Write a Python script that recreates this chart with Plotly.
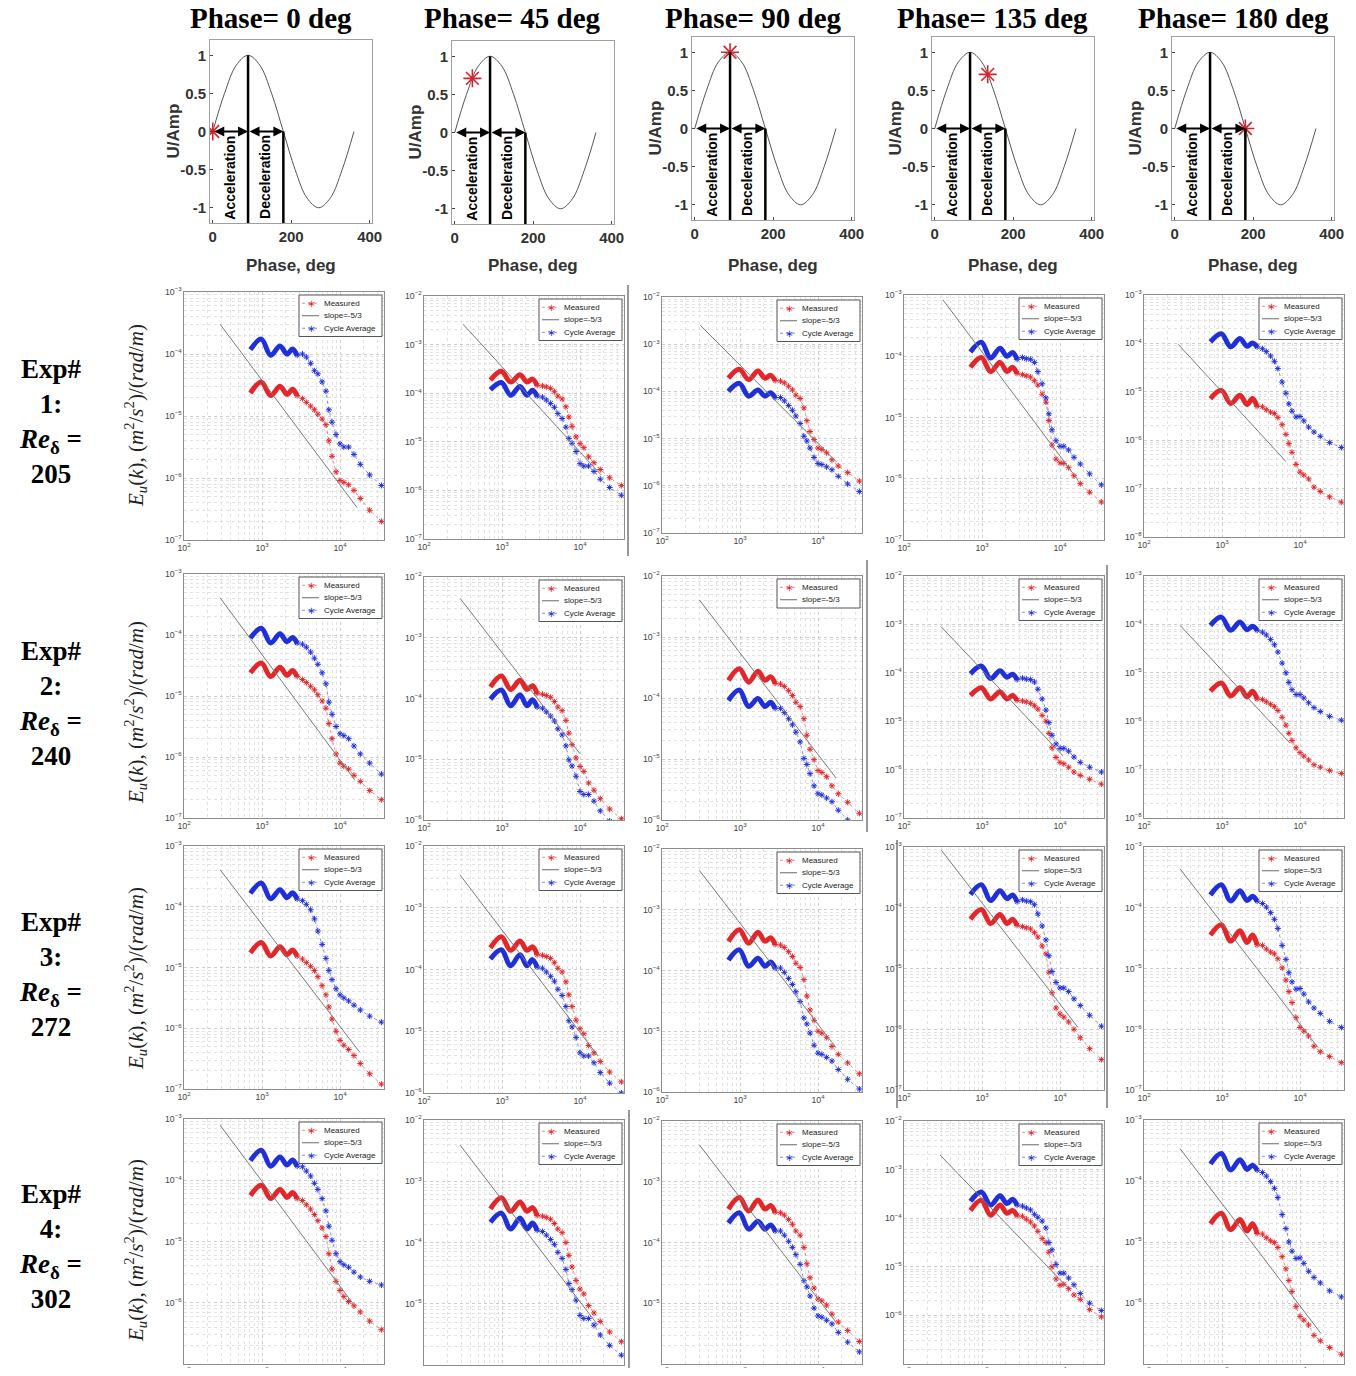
import numpy as np
import plotly.graph_objects as go

W, H = 1356, 1376
PAGE_MARGIN = 8          # the browser puts the figure 8 px in from the page corner
FW, FH = W - 2 * PAGE_MARGIN, H - 2 * PAGE_MARGIN

# ---- top row: phase of the oscillation --------------------------------------
PHASES = [0, 45, 90, 135, 180]
PHASE_U = [0.0, 0.71, 1.0, 0.71, 0.0]
SINE_PHASE = [0, 30, 60, 90, 120, 150, 180, 210, 240, 270, 300, 330, 360]
SINE_U = [0.0, 0.5, 0.87, 1.0, 0.87, 0.5, 0.0, -0.5, -0.87, -1.0, -0.87, -0.5, 0.0]
ACCEL_END = 90
DECEL_END = 180

EXPERIMENTS = [1, 2, 3, 4]
RE_DELTA = [205, 240, 272, 302]

# ---- spectra: wavenumber (rad/m) ------------------------------------------
K_DENSE = [710, 980, 1290, 1700, 2090, 2460, 2820]
K_TAIL = [3300, 3700, 4200, 4700, 5200, 5900, 6600, 7200, 7900, 8900,
          10000, 11200, 12900, 15100, 18200, 24000, 33900]

# log10 of E_u(k); first 7 values are the dense band, the rest the sparse tail
E1_P0_MEAS = [-4.63, -4.45, -4.67, -4.52, -4.65, -4.57, -4.67,
              -4.72, -4.78, -4.84, -4.90, -4.97, -5.05, -5.14, -5.40, -5.65, -5.90, -6.04, -6.07, -6.11, -6.20, -6.33, -6.52, -6.70]
E1_P0_AVG = [-3.93, -3.76, -4.02, -3.87, -4.00, -3.92, -4.02,
             -4.00, -4.05, -4.15, -4.27, -4.32, -4.45, -4.60, -4.90, -5.10, -5.30, -5.45, -5.50, -5.50, -5.62, -5.78, -5.95, -6.12]
E1_P45_MEAS = [-3.73, -3.55, -3.77, -3.62, -3.77, -3.71, -3.84,
               -3.85, -3.87, -3.90, -3.97, -4.06, -4.12, -4.28, -4.49, -4.68, -4.90, -5.04, -5.12, -5.31, -5.43, -5.57, -5.74, -5.90]
E1_P45_AVG = [-3.93, -3.78, -4.04, -3.86, -4.04, -3.94, -4.06,
              -4.08, -4.14, -4.21, -4.29, -4.42, -4.52, -4.70, -4.93, -5.03, -5.20, -5.45, -5.50, -5.50, -5.61, -5.77, -5.94, -6.10]
E1_P90_MEAS = [-3.72, -3.53, -3.75, -3.57, -3.72, -3.66, -3.77,
               -3.78, -3.82, -3.89, -3.97, -4.08, -4.15, -4.35, -4.62, -4.85, -5.02, -5.20, -5.23, -5.30, -5.45, -5.58, -5.72, -5.90]
E1_P90_AVG = [-4.00, -3.83, -4.10, -3.97, -4.10, -4.03, -4.13,
              -4.13, -4.20, -4.30, -4.40, -4.52, -4.68, -4.95, -5.05, -5.20, -5.40, -5.53, -5.55, -5.60, -5.66, -5.80, -5.96, -6.12]
E1_P135_MEAS = [-4.18, -4.02, -4.25, -4.10, -4.25, -4.18, -4.28,
                -4.30, -4.32, -4.34, -4.40, -4.47, -4.62, -4.75, -5.05, -5.45, -5.68, -5.74, -5.75, -5.82, -5.95, -6.08, -6.22, -6.38]
E1_P135_AVG = [-3.93, -3.77, -4.03, -3.87, -4.00, -3.94, -4.05,
               -4.02, -4.04, -4.05, -4.10, -4.25, -4.45, -4.68, -4.94, -5.20, -5.38, -5.47, -5.47, -5.53, -5.65, -5.76, -5.92, -6.10]
E1_P180_MEAS = [-5.14, -4.97, -5.24, -5.07, -5.26, -5.14, -5.30,
                -5.31, -5.37, -5.42, -5.45, -5.53, -5.68, -5.88, -6.07, -6.25, -6.50, -6.66, -6.72, -6.80, -6.97, -7.06, -7.17, -7.28]
E1_P180_AVG = [-3.97, -3.80, -4.07, -3.90, -4.06, -3.99, -4.07,
               -4.11, -4.17, -4.26, -4.37, -4.52, -4.80, -5.03, -5.25, -5.40, -5.52, -5.51, -5.60, -5.73, -5.83, -5.92, -6.05, -6.15]

E2_P0_MEAS = [-4.62, -4.46, -4.68, -4.53, -4.66, -4.58, -4.68,
              -4.73, -4.78, -4.84, -4.90, -4.98, -5.08, -5.20, -5.45, -5.70, -5.95, -6.10, -6.15, -6.20, -6.30, -6.40, -6.55, -6.70]
E2_P0_AVG = [-4.05, -3.89, -4.13, -3.98, -4.11, -4.04, -4.13,
             -4.15, -4.20, -4.28, -4.38, -4.48, -4.62, -4.80, -5.10, -5.30, -5.50, -5.62, -5.65, -5.70, -5.82, -5.95, -6.10, -6.28]
E2_P45_MEAS = [-3.81, -3.63, -3.85, -3.70, -3.85, -3.79, -3.92,
               -3.93, -3.95, -3.98, -4.05, -4.14, -4.20, -4.36, -4.57, -4.76, -4.98, -5.12, -5.20, -5.39, -5.51, -5.65, -5.82, -5.98]
E2_P45_AVG = [-4.01, -3.86, -4.12, -3.94, -4.12, -4.02, -4.14,
              -4.16, -4.22, -4.29, -4.37, -4.50, -4.60, -4.78, -5.01, -5.11, -5.28, -5.53, -5.58, -5.58, -5.69, -5.85, -6.02, -6.18]
E2_P90_MEAS = [-3.71, -3.52, -3.74, -3.56, -3.71, -3.65, -3.76,
               -3.77, -3.81, -3.88, -3.96, -4.07, -4.14, -4.34, -4.61, -4.84, -5.01, -5.19, -5.22, -5.29, -5.44, -5.57, -5.71, -5.89]
E2_P90_AVG = [-4.04, -3.87, -4.14, -4.01, -4.14, -4.07, -4.17,
              -4.17, -4.24, -4.34, -4.44, -4.56, -4.72, -4.99, -5.09, -5.24, -5.44, -5.57, -5.59, -5.64, -5.70, -5.84, -6.00, -6.16]
E2_P135_MEAS = [-4.47, -4.31, -4.54, -4.39, -4.54, -4.47, -4.57,
                -4.58, -4.60, -4.63, -4.68, -4.75, -4.88, -5.00, -5.25, -5.55, -5.75, -5.85, -5.88, -5.95, -6.05, -6.12, -6.20, -6.30]
E2_P135_AVG = [-4.02, -3.86, -4.12, -3.96, -4.09, -4.03, -4.14,
               -4.11, -4.13, -4.14, -4.19, -4.34, -4.54, -4.77, -5.03, -5.29, -5.47, -5.56, -5.56, -5.62, -5.74, -5.85, -5.95, -6.05]
E2_P180_MEAS = [-5.38, -5.21, -5.48, -5.31, -5.50, -5.38, -5.54,
                -5.55, -5.60, -5.65, -5.70, -5.78, -5.92, -6.08, -6.25, -6.40, -6.55, -6.65, -6.72, -6.80, -6.90, -6.95, -7.02, -7.08]
E2_P180_AVG = [-4.02, -3.85, -4.12, -3.95, -4.11, -4.04, -4.12,
               -4.16, -4.22, -4.31, -4.42, -4.57, -4.80, -5.00, -5.20, -5.35, -5.45, -5.45, -5.52, -5.62, -5.72, -5.80, -5.90, -5.98]

E3_P0_MEAS = [-4.76, -4.59, -4.81, -4.66, -4.79, -4.71, -4.81,
              -4.86, -4.92, -4.98, -5.05, -5.15, -5.30, -5.45, -5.65, -5.85, -6.05, -6.20, -6.28, -6.35, -6.45, -6.58, -6.75, -6.92]
E3_P0_AVG = [-3.78, -3.61, -3.87, -3.72, -3.85, -3.77, -3.87,
             -3.90, -3.96, -4.05, -4.20, -4.40, -4.62, -4.85, -5.05, -5.20, -5.35, -5.45, -5.50, -5.55, -5.62, -5.70, -5.80, -5.90]
E3_P45_MEAS = [-3.65, -3.47, -3.69, -3.54, -3.69, -3.63, -3.76,
               -3.77, -3.79, -3.82, -3.89, -3.98, -4.04, -4.20, -4.41, -4.60, -4.82, -4.96, -5.04, -5.23, -5.35, -5.49, -5.66, -5.82]
E3_P45_AVG = [-3.83, -3.68, -3.94, -3.76, -3.94, -3.84, -3.96,
              -3.98, -4.04, -4.11, -4.19, -4.32, -4.42, -4.60, -4.83, -4.93, -5.10, -5.35, -5.40, -5.40, -5.51, -5.67, -5.84, -6.00]
E3_P90_MEAS = [-3.52, -3.33, -3.55, -3.37, -3.52, -3.46, -3.57,
               -3.58, -3.62, -3.69, -3.77, -3.88, -3.95, -4.15, -4.42, -4.65, -4.82, -5.00, -5.03, -5.10, -5.25, -5.38, -5.52, -5.70]
E3_P90_AVG = [-3.83, -3.66, -3.93, -3.80, -3.93, -3.86, -3.96,
              -3.96, -4.03, -4.13, -4.23, -4.35, -4.51, -4.78, -4.88, -5.03, -5.23, -5.36, -5.38, -5.43, -5.49, -5.63, -5.79, -5.95]
E3_P135_MEAS = [-4.19, -4.03, -4.26, -4.11, -4.26, -4.19, -4.29,
                -4.31, -4.33, -4.35, -4.41, -4.48, -4.63, -4.76, -5.06, -5.40, -5.65, -5.75, -5.80, -5.88, -6.00, -6.14, -6.32, -6.50]
E3_P135_AVG = [-3.78, -3.62, -3.88, -3.72, -3.85, -3.79, -3.90,
               -3.87, -3.89, -3.90, -3.95, -4.10, -4.30, -4.53, -4.79, -5.05, -5.23, -5.32, -5.32, -5.38, -5.50, -5.61, -5.77, -5.95]
E3_P180_MEAS = [-4.45, -4.28, -4.55, -4.38, -4.57, -4.45, -4.61,
                -4.62, -4.68, -4.73, -4.76, -4.84, -4.99, -5.19, -5.38, -5.56, -5.81, -5.97, -6.03, -6.11, -6.28, -6.37, -6.45, -6.55]
E3_P180_AVG = [-3.79, -3.62, -3.89, -3.72, -3.88, -3.81, -3.89,
               -3.93, -3.99, -4.08, -4.19, -4.34, -4.62, -4.85, -5.07, -5.22, -5.34, -5.33, -5.42, -5.55, -5.65, -5.74, -5.87, -5.97]

E4_P0_MEAS = [-4.25, -4.08, -4.30, -4.15, -4.28, -4.20, -4.30,
              -4.33, -4.40, -4.47, -4.56, -4.66, -4.78, -4.92, -5.20, -5.45, -5.65, -5.80, -5.90, -5.98, -6.05, -6.15, -6.30, -6.44]
E4_P0_AVG = [-3.68, -3.51, -3.77, -3.62, -3.75, -3.67, -3.77,
             -3.78, -3.85, -3.93, -4.05, -4.15, -4.30, -4.50, -4.75, -4.98, -5.20, -5.33, -5.38, -5.42, -5.50, -5.58, -5.65, -5.71]
E4_P45_MEAS = [-3.45, -3.27, -3.49, -3.34, -3.49, -3.43, -3.56,
               -3.57, -3.59, -3.62, -3.69, -3.78, -3.84, -4.00, -4.21, -4.40, -4.62, -4.76, -4.84, -5.03, -5.15, -5.29, -5.46, -5.62]
E4_P45_AVG = [-3.67, -3.52, -3.78, -3.60, -3.78, -3.68, -3.80,
              -3.82, -3.88, -3.95, -4.03, -4.16, -4.26, -4.44, -4.67, -4.77, -4.94, -5.19, -5.24, -5.24, -5.35, -5.51, -5.68, -5.84]
E4_P90_MEAS = [-3.45, -3.26, -3.48, -3.30, -3.45, -3.39, -3.50,
               -3.51, -3.55, -3.62, -3.70, -3.81, -3.88, -4.08, -4.35, -4.58, -4.75, -4.93, -4.96, -5.03, -5.18, -5.31, -5.45, -5.63]
E4_P90_AVG = [-3.68, -3.51, -3.78, -3.65, -3.78, -3.71, -3.81,
              -3.81, -3.88, -3.98, -4.08, -4.20, -4.36, -4.63, -4.73, -4.88, -5.08, -5.21, -5.23, -5.28, -5.34, -5.48, -5.64, -5.80]
E4_P135_MEAS = [-3.84, -3.63, -3.94, -3.73, -3.90, -3.84, -3.95,
                -3.96, -4.02, -4.08, -4.16, -4.27, -4.42, -4.50, -4.70, -5.00, -5.25, -5.38, -5.36, -5.45, -5.58, -5.67, -5.88, -6.03]
E4_P135_AVG = [-3.65, -3.46, -3.73, -3.54, -3.70, -3.61, -3.73,
               -3.75, -3.79, -3.83, -3.92, -3.98, -4.06, -4.20, -4.50, -4.65, -4.95, -5.13, -5.13, -5.23, -5.37, -5.55, -5.75, -5.90]
E4_P180_MEAS = [-4.70, -4.53, -4.80, -4.63, -4.82, -4.70, -4.86,
                -4.87, -4.93, -4.98, -5.01, -5.09, -5.24, -5.44, -5.63, -5.81, -6.06, -6.22, -6.28, -6.36, -6.53, -6.62, -6.73, -6.84]
E4_P180_AVG = [-3.72, -3.55, -3.82, -3.65, -3.81, -3.74, -3.82,
               -3.86, -3.92, -4.01, -4.12, -4.27, -4.55, -4.78, -5.00, -5.15, -5.27, -5.26, -5.35, -5.48, -5.58, -5.67, -5.80, -5.90]

# slope=-5/3 reference line: end points (k, log10 E) per panel
SLOPE_K = [
    [[290, 16600], [316, 18600], [310, 17400], [316, 17000], [275, 6600]],
    [[290, 15500], [290, 10000], [300, 17000], [300, 11000], [290, 7400]],
    [[290, 17800], [290, 17000], [300, 17000], [300, 17000], [290, 17000]],
    [[290, 15000], [290, 17000], [300, 17000], [290, 12600], [290, 18600]],
]
SLOPE_LOGE = [
    [[-3.52, -6.48], [-2.58, -5.68], [-2.60, -5.50], [-3.08, -6.02], [-4.02, -6.44]],
    [[-3.39, -6.38], [-2.35, -4.91], [-2.39, -5.31], [-3.05, -5.72], [-4.02, -6.45]],
    [[-3.39, -6.39], [-2.47, -5.40], [-2.35, -5.27], [-3.05, -5.97], [-3.36, -6.30]],
    [[-3.10, -6.03], [-2.41, -5.35], [-2.39, -5.31], [-2.70, -5.43], [-3.47, -6.50]],
]
# decade limits of each panel's y axis
Y_DECADES = [
    [(-7, -3), (-7, -2), (-7, -2), (-7, -3), (-8, -3)],
    [(-7, -3), (-6, -2), (-6, -2), (-7, -2), (-8, -3)],
    [(-7, -3), (-6, -2), (-6, -2), (-7, -3), (-7, -3)],
    [(-7, -3), (-6, -2), (-6, -2), (-7, -2), (-7, -3)],
]

MEASURED = [
    [E1_P0_MEAS, E1_P45_MEAS, E1_P90_MEAS, E1_P135_MEAS, E1_P180_MEAS],
    [E2_P0_MEAS, E2_P45_MEAS, E2_P90_MEAS, E2_P135_MEAS, E2_P180_MEAS],
    [E3_P0_MEAS, E3_P45_MEAS, E3_P90_MEAS, E3_P135_MEAS, E3_P180_MEAS],
    [E4_P0_MEAS, E4_P45_MEAS, E4_P90_MEAS, E4_P135_MEAS, E4_P180_MEAS],
]
CYCLE_AVG = [
    [E1_P0_AVG, E1_P45_AVG, E1_P90_AVG, E1_P135_AVG, E1_P180_AVG],
    [E2_P0_AVG, E2_P45_AVG, E2_P90_AVG, E2_P135_AVG, E2_P180_AVG],
    [E3_P0_AVG, E3_P45_AVG, E3_P90_AVG, E3_P135_AVG, E3_P180_AVG],
    [E4_P0_AVG, E4_P45_AVG, E4_P90_AVG, E4_P135_AVG, E4_P180_AVG],
]

# ---- layout in page pixels ---------------------------------------------------
SINE_LEFT = [210, 452, 692, 932, 1172]
SINE_TOP = [40, 41, 37, 37, 37]
SINE_W, SINE_H = 162, 183
TITLE_SHIFT = -20        # the column titles sit a little left of the sine boxes
SPEC_LEFT = [184, 424, 662, 904, 1144]
SPEC_W = 200
SPEC_TB = [
    [(292, 540), (296, 539), (297, 533), (295, 540), (295, 537)],
    [(574, 818), (577, 820), (576, 820), (576, 818), (576, 818)],
    [(846, 1089), (846, 1093), (849, 1092), (847, 1090), (847, 1090)],
    [(1119, 1364), (1120, 1365), (1121, 1364), (1121, 1364), (1120, 1364)],
]
ROW_CENTER = [421, 703, 974, 1246]
YTITLE_CENTER = [415, 712, 978, 1250]
LEG_W, LEG_ROW = 83, 12.5
# dark seams between the pasted panels: (x, y_top, y_bottom)
SEAMS = [(628, 285, 556), (867, 560, 832), (897, 840, 1108), (1107, 565, 1108), (629, 1110, 1376)]

RED, BLUE = "#e3262a", "#2030d8"
RED_T, BLUE_T = "rgba(227,38,42,0.55)", "rgba(32,48,216,0.55)"


def px(x):
    return (x - PAGE_MARGIN) / FW


def py(y):
    return 1 - (y - PAGE_MARGIN) / FH


def note(x, y, text, size, family="Liberation Sans", color="black", **kw):
    return dict(xref="paper", yref="paper", x=px(x), y=py(y), text=text, showarrow=False,
                xanchor=kw.pop("xanchor", "center"), yanchor="middle",
                font=dict(family=family, size=size, color=color, weight=kw.pop("weight", "normal")), **kw)


fig = go.Figure()
layout = dict(
    width=FW, height=FH, margin=dict(l=0, r=0, t=0, b=0, autoexpand=False),
    paper_bgcolor="white", plot_bgcolor="white", showlegend=False,
)
annotations = []
shapes = []

# top row: sine with the phase marker
for c, ph in enumerate(PHASES):
    n = c + 1
    xa, ya = f"x{n}", f"y{n}"
    L, T = SINE_LEFT[c], SINE_TOP[c]
    tfont = dict(family="Liberation Sans", size=15, color="#333", weight="bold")
    layout[f"xaxis{n}"] = dict(
        domain=[px(L), px(L + SINE_W)], anchor=ya, range=[-7, 406], automargin=False,
        tickvals=[0, 200, 400], ticks="inside", ticklen=3, showgrid=False, zeroline=False,
        showline=True, mirror=True, linecolor="#a0a0a0", tickfont=tfont,
    )
    layout[f"yaxis{n}"] = dict(
        domain=[py(T + SINE_H), py(T)], anchor=xa, range=[-1.2, 1.2], automargin=False,
        tickvals=[-1, -0.5, 0, 0.5, 1], ticktext=["-1", "-0.5", "0", "0.5", "1"],
        ticks="inside", ticklen=3, showgrid=False, zeroline=False,
        showline=True, mirror=True, linecolor="#a0a0a0", tickfont=tfont,
    )
    fig.add_trace(go.Scatter(
        x=SINE_PHASE, y=SINE_U, mode="lines", line=dict(color="#555", width=1, shape="spline"),
        xaxis=xa, yaxis=ya, hoverinfo="skip",
    ))
    fig.add_trace(go.Scatter(
        x=[ph], y=[PHASE_U[c]], mode="markers",
        marker=dict(symbol="asterisk-open", size=15, color="#d8232a", line=dict(color="#d8232a", width=1.6)),
        xaxis=xa, yaxis=ya, hoverinfo="skip",
    ))
    shapes.append(dict(type="line", xref=xa, yref=ya, x0=ACCEL_END, x1=ACCEL_END, y0=-1.2, y1=1,
                       line=dict(color="black", width=2.5)))
    shapes.append(dict(type="line", xref=xa, yref=ya, x0=DECEL_END, x1=DECEL_END, y0=-1.2, y1=0,
                       line=dict(color="black", width=2.5)))
    for a0, a1 in [(0, ACCEL_END), (ACCEL_END, DECEL_END)]:
        annotations.append(dict(
            xref=xa, yref=ya, axref=xa, ayref=ya, x=a1, y=0, ax=a0, ay=0, text="",
            showarrow=True, arrowhead=2, arrowside="end+start", arrowsize=1, arrowwidth=2,
            arrowcolor="black",
        ))
    for xm, label in [(ACCEL_END / 2, "Acceleration"), ((ACCEL_END + DECEL_END) / 2, "Deceleration")]:
        annotations.append(dict(
            xref=xa, yref=ya, x=xm, y=-0.6, text=label, textangle=-90, showarrow=False,
            xanchor="center", yanchor="middle",
            font=dict(family="Liberation Sans", size=14, color="black", weight="bold"),
        ))
    annotations.append(note(L + SINE_W / 2 + TITLE_SHIFT, 18, f"<b>Phase= {ph} deg</b>", 29,
                            family="Liberation Serif"))
    annotations.append(note(L + SINE_W / 2, 265, "Phase, deg", 17, color="#333", weight="bold"))
    annotations.append(note(L - 37, T + SINE_H / 2, "U/Amp", 17, color="#333", weight="bold", textangle=-90))

# spectra grid
k_all = K_DENSE + K_TAIL
nd = len(K_DENSE)
for r in range(4):
    for c in range(5):
        n = 6 + r * 5 + c
        xa, ya = f"x{n}", f"y{n}"
        L = SPEC_LEFT[c]
        T, B = SPEC_TB[r][c]
        lo, hi = Y_DECADES[r][c]
        axis_common = dict(
            type="log", dtick=1, exponentformat="power", showexponent="all", automargin=False,
            showgrid=True, gridcolor="#cccccc", griddash="dot", gridwidth=1,
            minor=dict(dtick="D1", showgrid=True, gridcolor="#e2e2e2", griddash="dot", ticks=""),
            showline=True, mirror=True, linecolor="#8c8c8c", ticks="", zeroline=False,
            tickfont=dict(family="Liberation Sans", size=7, color="#444"),
        )
        layout[f"xaxis{n}"] = dict(domain=[px(L), px(L + SPEC_W)], anchor=ya,
                                   range=[2, 2 + SPEC_W / 78], **axis_common)
        layout[f"yaxis{n}"] = dict(domain=[py(B), py(T)], anchor=xa, range=[lo, hi], **axis_common)

        meas = np.power(10.0, MEASURED[r][c])
        avg = np.power(10.0, CYCLE_AVG[r][c])

        for vals, col, colt in [(meas, RED, RED_T), (avg, BLUE, BLUE_T)]:
            fig.add_trace(go.Scatter(
                x=K_DENSE, y=vals[:nd], mode="lines", line=dict(color=col, width=5, shape="spline"),
                xaxis=xa, yaxis=ya, hoverinfo="skip",
            ))
            fig.add_trace(go.Scatter(
                x=k_all[nd - 1:], y=vals[nd - 1:], mode="lines+markers",
                line=dict(color=colt, width=1, dash="dot"),
                marker=dict(symbol="asterisk-open", size=5, color=col, line=dict(color=col, width=1)),
                xaxis=xa, yaxis=ya, hoverinfo="skip",
            ))
        fig.add_trace(go.Scatter(
            x=SLOPE_K[r][c], y=np.power(10.0, SLOPE_LOGE[r][c]), mode="lines",
            line=dict(color="#7a7a7a", width=1), xaxis=xa, yaxis=ya, hoverinfo="skip",
        ))

        # legend box drawn in pixels (MATLAB style, compact)
        entries = [("Measured", RED, RED_T, True), ("slope=-5/3", "#6a6a6a", "#6a6a6a", False),
                   ("Cycle Average", BLUE, BLUE_T, True)]
        if r == 1 and c == 2:
            entries = entries[:2]
        R, Tl = L + SPEC_W - 2, T + 3
        hgt = len(entries) * LEG_ROW + 4
        shapes.append(dict(type="rect", xref="paper", yref="paper",
                           x0=px(R - LEG_W), x1=px(R), y0=py(Tl + hgt), y1=py(Tl),
                           fillcolor="white", line=dict(color="#555", width=1)))
        for i, (name, col, colt, star) in enumerate(entries):
            yc = Tl + 2 + LEG_ROW * (i + 0.5)
            shapes.append(dict(type="line", xref="paper", yref="paper",
                               x0=px(R - LEG_W + 3), x1=px(R - LEG_W + 20), y0=py(yc), y1=py(yc),
                               line=dict(color=colt, width=1, dash="dot" if star else "solid")))
            if star:
                annotations.append(note(R - LEG_W + 11.5, yc, "∗", 10, family="DejaVu Sans", color=col))
            annotations.append(note(R - LEG_W + 23, yc, name, 8, color="#222", xanchor="left"))

for sx, s0, s1 in SEAMS:
    shapes.append(dict(type="line", xref="paper", yref="paper", x0=px(sx), x1=px(sx),
                       y0=py(s1), y1=py(s0), line=dict(color="#333", width=1)))

# row labels and y titles
for r, (e, re) in enumerate(zip(EXPERIMENTS, RE_DELTA)):
    annotations.append(note(
        50, ROW_CENTER[r],
        f"<b>Exp#</b><br><b>{e}:</b><br><b><i>Re</i><sub>δ</sub> =</b><br><b>{re}</b>",
        27, family="Liberation Serif",
    ))
    annotations.append(note(
        135, YTITLE_CENTER[r],
        "<i>E<sub>u</sub></i>(<i>k</i>), (<i>m</i><sup>2</sup>/<i>s</i><sup>2</sup>)/(<i>rad</i>/<i>m</i>)",
        21, family="Liberation Serif", color="#222", textangle=-90,
    ))

layout["annotations"] = annotations
layout["shapes"] = shapes
fig.update_layout(**layout)
fig.write_html("out.html")
